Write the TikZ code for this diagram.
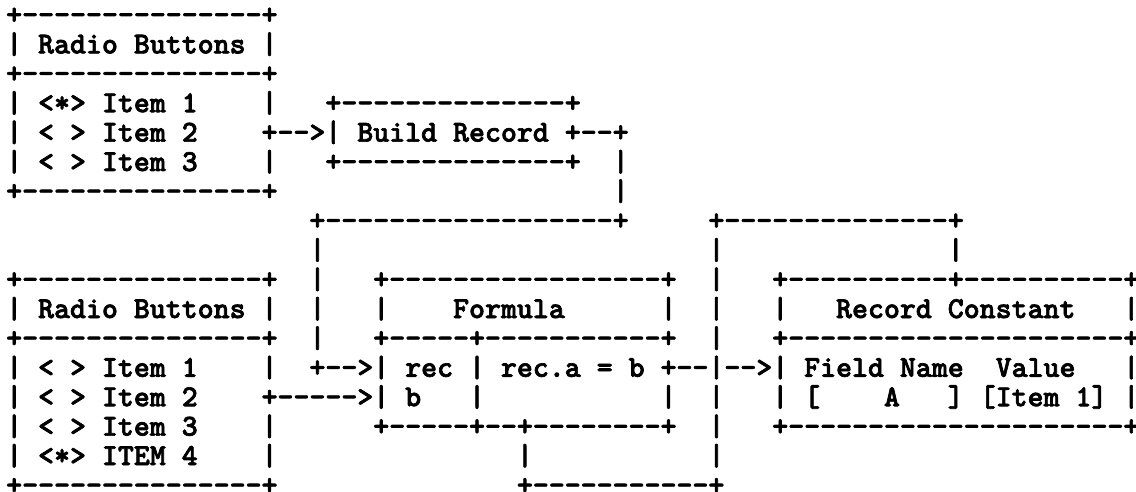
\documentclass[tikz,border=0pt]{standalone}
\usepackage{fontspec}
% dark face of Latin Modern Mono Light, thickened a little more
\newfontfamily\gridfont{lmmonolt10-bold}[Extension=.otf,FakeBold=2.2]
\ExplSyntaxOn
\NewDocumentCommand\rep{mm}{\prg_replicate:nn{#1}{#2}}
\ExplSyntaxOff
\begin{document}
\begin{tikzpicture}[x=0.75pt,y=-0.75pt,
  row/.style={anchor=base west,inner sep=0pt,outer sep=0pt,
    font=\gridfont\fontsize{22.8}{24}\selectfont}]
\useasboundingbox (0,0) rectangle (1136,492);
% one text line per row of the character grid
\node[row] (r1)  at (6.2,24.0)  {+\rep{15}{-}+};
\node[row] (r2)  at (6.2,53.4)  {|~Radio~Buttons~|};
\node[row] (r3)  at (6.2,82.8)  {+\rep{15}{-}+};
\node[row] (r4)  at (6.2,112.2) {|~<*>~Item~1\rep{4}{~}|\rep{3}{~}+\rep{14}{-}+};
\node[row] (r5)  at (6.2,141.6) {|~<~>~Item~2\rep{4}{~}+-->|~Build~Record~+--+};
\node[row] (r6)  at (6.2,171.0) {|~<~>~Item~3\rep{4}{~}|\rep{3}{~}+\rep{14}{-}+~~|};
\node[row] (r7)  at (6.2,200.4) {+\rep{15}{-}+\rep{21}{~}|};
\node[row] (r8)  at (6.2,229.8) {\rep{19}{~}+\rep{18}{-}+\rep{5}{~}+\rep{14}{-}+};
\node[row] (r9)  at (6.2,259.2) {\rep{19}{~}|\rep{24}{~}|\rep{14}{~}|};
\node[row] (r10) at (6.2,288.6) {+\rep{15}{-}+~~|~~~+\rep{17}{-}+~~|~~~+\rep{10}{-}+\rep{10}{-}+};
\node[row] (r11) at (6.2,318.0) {|~Radio~Buttons~|~~|~~~|\rep{4}{~}Formula\rep{6}{~}|~~|~~~|~~~Record~Constant~~~|};
\node[row] (r12) at (6.2,347.4) {+\rep{15}{-}+~~|~~~+\rep{5}{-}+\rep{11}{-}+~~|~~~+\rep{21}{-}+};
\node[row] (r13) at (6.2,376.8) {|~<~>~Item~1\rep{4}{~}|~~+-->|~rec~|~rec.a~=~b~+--|-->|~Field~Name~~Value~~~|};
\node[row] (r14) at (6.2,406.2) {|~<~>~Item~2\rep{4}{~}+----->|~b~~~|\rep{11}{~}|~~|~~~|~[\rep{4}{~}A~~~]~[Item~1]~|};
\node[row] (r15) at (6.2,435.6) {|~<~>~Item~3\rep{4}{~}|\rep{6}{~}+\rep{5}{-}+--+\rep{8}{-}+~~|~~~+\rep{21}{-}+};
\node[row] (r16) at (6.2,465.0) {|~<*>~ITEM~4\rep{4}{~}|\rep{15}{~}|\rep{11}{~}|};
\node[row] (r17) at (6.2,494.4) {+\rep{15}{-}+\rep{15}{~}+\rep{11}{-}+};
\end{tikzpicture}
\end{document}
